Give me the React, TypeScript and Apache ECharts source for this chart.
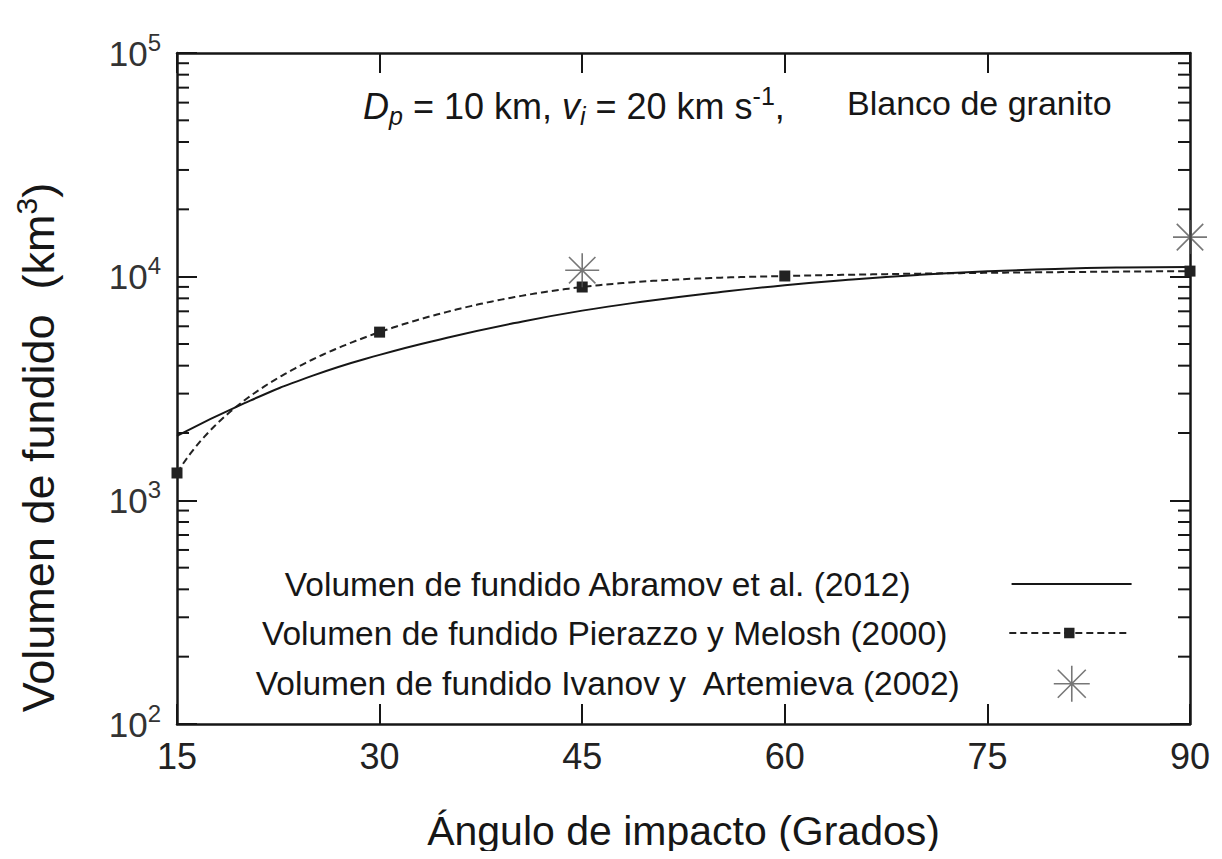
import React, { useEffect, useRef } from "react";
import * as echarts from "echarts";

const abramovAngles = [15, 20, 25, 30, 35, 40, 45, 50, 55, 60, 65, 70, 75, 80, 85, 90];
const abramovVolumes = [1940, 2720, 3600, 4470, 5330, 6200, 7050, 7800, 8500, 9160, 9720, 10190, 10560, 10830, 10990, 11050];

const pierazzoAngles = [15, 30, 45, 60, 90];
const pierazzoVolumes = [1325, 5650, 8990, 10070, 10590];

const ivanovAngles = [45, 90];
const ivanovVolumes = [10690, 15030];

const minorTickValues = [
  200, 300, 400, 500, 600, 700, 800, 900,
  2000, 3000, 4000, 5000, 6000, 7000, 8000, 9000,
  20000, 30000, 40000, 50000, 60000, 70000, 80000, 90000,
];

const seriesNames = [
  "Volumen de fundido Abramov et al. (2012)",
  "Volumen de fundido Pierazzo y Melosh (2000)",
  "Volumen de fundido Ivanov y  Artemieva (2002)",
];

const FONT = "'Liberation Sans', Arial, Helvetica, sans-serif";
const INK = "#161616";
const STAR = "path://M18 0 L18 36 M0 18 L36 18 M4 4 L32 32 M4 32 L32 4";

// Natural cubic spline (drawing helper for the dashed curve, like a "smooth" option)
function naturalSpline(xs: number[], ys: number[]) {
  const n = xs.length;
  const h: number[] = [];
  for (let i = 0; i < n - 1; i++) h.push(xs[i + 1] - xs[i]);
  const a: number[] = new Array(n).fill(0);
  const b: number[] = new Array(n).fill(1);
  const c: number[] = new Array(n).fill(0);
  const r: number[] = new Array(n).fill(0);
  for (let i = 1; i < n - 1; i++) {
    a[i] = h[i - 1];
    b[i] = 2 * (h[i - 1] + h[i]);
    c[i] = h[i];
    r[i] = 6 * ((ys[i + 1] - ys[i]) / h[i] - (ys[i] - ys[i - 1]) / h[i - 1]);
  }
  // Thomas algorithm
  const cp: number[] = new Array(n).fill(0);
  const rp: number[] = new Array(n).fill(0);
  cp[0] = c[0] / b[0];
  rp[0] = r[0] / b[0];
  for (let i = 1; i < n; i++) {
    const m = b[i] - a[i] * cp[i - 1];
    cp[i] = c[i] / m;
    rp[i] = (r[i] - a[i] * rp[i - 1]) / m;
  }
  const M: number[] = new Array(n).fill(0);
  M[n - 1] = rp[n - 1];
  for (let i = n - 2; i >= 0; i--) M[i] = rp[i] - cp[i] * M[i + 1];
  return (x: number) => {
    let i = 0;
    while (i < n - 2 && x > xs[i + 1]) i++;
    const hi = h[i];
    const A = (xs[i + 1] - x) / hi;
    const B = (x - xs[i]) / hi;
    return (
      A * ys[i] + B * ys[i + 1] +
      ((A * A * A - A) * M[i] + (B * B * B - B) * M[i + 1]) * (hi * hi) / 6
    );
  };
}

const pierazzoSpline = naturalSpline(pierazzoAngles, pierazzoVolumes);

export default function App() {
  const ref = useRef<HTMLDivElement>(null);

  useEffect(() => {
    if (!ref.current) return;
    const chart = echarts.init(ref.current, undefined, { renderer: "svg" });

    const legendRow = (name: string, left: number, top: number, gap: number, extra: any) => ({
      show: true,
      left,
      top,
      orient: "horizontal",
      align: "right",
      data: [name],
      itemGap: 0,
      padding: 0,
      selectedMode: false,
      textStyle: {
        fontFamily: FONT,
        fontSize: 33.5,
        color: INK,
        lineHeight: 36,
        padding: [0, gap, 0, 0],
      },
      ...extra,
    });

    chart.setOption({
      animation: false,
      backgroundColor: "#ffffff",
      grid: { left: 177, right: 32, top: 53, bottom: 135, containLabel: false },
      xAxis: [
        {
          type: "value",
          min: 15,
          max: 90,
          interval: 15,
          position: "bottom",
          name: "Ángulo de impacto (Grados)",
          nameLocation: "middle",
          nameGap: 86,
          nameTextStyle: { fontFamily: FONT, fontSize: 41, color: INK },
          axisLine: { show: true, onZero: false, lineStyle: { color: INK, width: 2.5 } },
          axisTick: { show: true, inside: true, length: 20, lineStyle: { color: INK, width: 2 } },
          axisLabel: { fontFamily: FONT, fontSize: 36, color: "#222", margin: 14 },
          splitLine: { show: false },
        },
        {
          type: "value",
          min: 15,
          max: 90,
          interval: 15,
          position: "top",
          axisLine: { show: true, onZero: false, lineStyle: { color: INK, width: 2.5 } },
          axisTick: { show: true, inside: true, length: 20, lineStyle: { color: INK, width: 2 } },
          axisLabel: { show: false },
          splitLine: { show: false },
        },
      ],
      yAxis: [
        {
          type: "log",
          logBase: 10,
          min: 100,
          max: 100000,
          position: "left",
          name: "{a|Volumen de fundido  (km}{s|3}{a|)}",
          nameLocation: "middle",
          nameGap: 112,
          nameRotate: 90,
          nameTextStyle: {
            padding: [0, 118, 0, 0],
            rich: {
              a: { fontFamily: FONT, fontSize: 45, color: INK },
              s: { fontFamily: FONT, fontSize: 30, color: INK, padding: [0, 0, 24, 0] },
            },
          },
          axisLine: { show: true, onZero: false, lineStyle: { color: INK, width: 2.5 } },
          axisTick: { show: true, inside: true, length: 20, lineStyle: { color: INK, width: 2 } },
          axisLabel: {
            margin: 16,
            formatter: (v: number) => `{b|10}{s|${Math.round(Math.log10(v))}}`,
            rich: {
              b: { fontFamily: FONT, fontSize: 35, color: "#333" },
              s: { fontFamily: FONT, fontSize: 24, color: "#333", padding: [0, 0, 22, 0] },
            },
          },
          splitLine: { show: false },
        },
        {
          type: "log",
          logBase: 10,
          min: 100,
          max: 100000,
          position: "right",
          axisLine: { show: true, onZero: false, lineStyle: { color: INK, width: 2.5 } },
          axisTick: { show: true, inside: true, length: 20, lineStyle: { color: INK, width: 2 } },
          axisLabel: { show: false },
          splitLine: { show: false },
        },
      ],
      legend: [
        legendRow(seriesNames[0], 283, 566, 96, {
          itemWidth: 120,
          itemHeight: 14,
          itemStyle: { opacity: 0 },
        }),
        legendRow(seriesNames[1], 262, 615, 57, {
          itemWidth: 120,
          itemHeight: 13,
          lineStyle: { color: "#222", width: 2, type: [7, 4], opacity: 1 },
        }),
        legendRow(seriesNames[2], 254, 665, 89, {
          itemWidth: 36,
          itemHeight: 36,
          itemStyle: { color: "transparent", borderColor: "#555", borderWidth: 1.6 },
        }),
      ],
      graphic: [
        {
          type: "text",
          left: 363,
          top: 83,
          style: {
            text: "{i|D}{isub|p}{n| = 10 km, }{i|v}{isub|i}{n| = 20 km s}{sup|-1}{n|,}",
            rich: {
              i: { fontFamily: FONT, fontSize: 36, fontStyle: "italic", fill: INK },
              isub: { fontFamily: FONT, fontSize: 25, fontStyle: "italic", fill: INK, padding: [18, 0, 0, 0] },
              n: { fontFamily: FONT, fontSize: 36, fill: INK },
              sup: { fontFamily: FONT, fontSize: 25, fill: INK, padding: [0, 0, 22, 0] },
            },
          },
        },
        {
          type: "text",
          left: 847,
          top: 86,
          style: {
            text: "Blanco de granito",
            fontFamily: FONT,
            fontSize: 34,
            fill: INK,
          },
        },
      ],
      series: [
        {
          name: seriesNames[0],
          type: "line",
          xAxisIndex: 0,
          yAxisIndex: 0,
          data: abramovAngles.map((a, i) => [a, abramovVolumes[i]]),
          smooth: true,
          symbol: "none",
          clip: false,
          lineStyle: { color: INK, width: 2 },
          itemStyle: { color: INK },
          z: 3,
        },
        {
          name: "pierazzoCurve",
          type: "custom",
          xAxisIndex: 0,
          yAxisIndex: 0,
          silent: true,
          clip: false,
          data: pierazzoAngles.map((a, i) => [a, pierazzoVolumes[i]]),
          renderItem: (params: any, api: any) => {
            if (params.dataIndex !== 0) return { type: "group", children: [] };
            const x0 = pierazzoAngles[0];
            const x1 = pierazzoAngles[pierazzoAngles.length - 1];
            const pts: number[][] = [];
            const steps = 300;
            for (let k = 0; k <= steps; k++) {
              const x = x0 + ((x1 - x0) * k) / steps;
              pts.push(api.coord([x, pierazzoSpline(x)]));
            }
            return {
              type: "polyline",
              shape: { points: pts },
              style: { stroke: "#222", lineWidth: 2, fill: "none", lineDash: [7, 4] },
            };
          },
          z: 3,
        },
        {
          name: seriesNames[1],
          type: "line",
          xAxisIndex: 0,
          yAxisIndex: 0,
          data: pierazzoAngles.map((a, i) => [a, pierazzoVolumes[i]]),
          symbol: "rect",
          symbolSize: 11,
          showSymbol: true,
          clip: false,
          lineStyle: { color: "#222", width: 2, type: [7, 4], opacity: 0 },
          itemStyle: { color: "#222" },
          z: 4,
        },
        {
          name: seriesNames[2],
          type: "scatter",
          xAxisIndex: 0,
          yAxisIndex: 0,
          data: ivanovAngles.map((a, i) => [a, ivanovVolumes[i]]),
          symbol: STAR,
          symbolSize: 34,
          clip: false,
          itemStyle: { color: "transparent", borderColor: "#555", borderWidth: 1.6 },
          z: 5,
        },
        {
          name: "minorTicks",
          type: "custom",
          xAxisIndex: 0,
          yAxisIndex: 0,
          silent: true,
          clip: false,
          data: minorTickValues.map((v) => [15, v]),
          renderItem: (params: any, api: any) => {
            const v = api.value(1);
            const l = api.coord([15, v]);
            const r = api.coord([90, v]);
            const st = { stroke: INK, lineWidth: 2 };
            return {
              type: "group",
              children: [
                { type: "line", shape: { x1: l[0], y1: l[1], x2: l[0] + 12, y2: l[1] }, style: st },
                { type: "line", shape: { x1: r[0] - 12, y1: r[1], x2: r[0], y2: r[1] }, style: st },
              ],
            };
          },
          z: 2,
        },
      ],
    });

    return () => chart.dispose();
  }, []);

  return <div ref={ref} style={{ width: 1222, height: 859, margin: -8 }} />;
}
